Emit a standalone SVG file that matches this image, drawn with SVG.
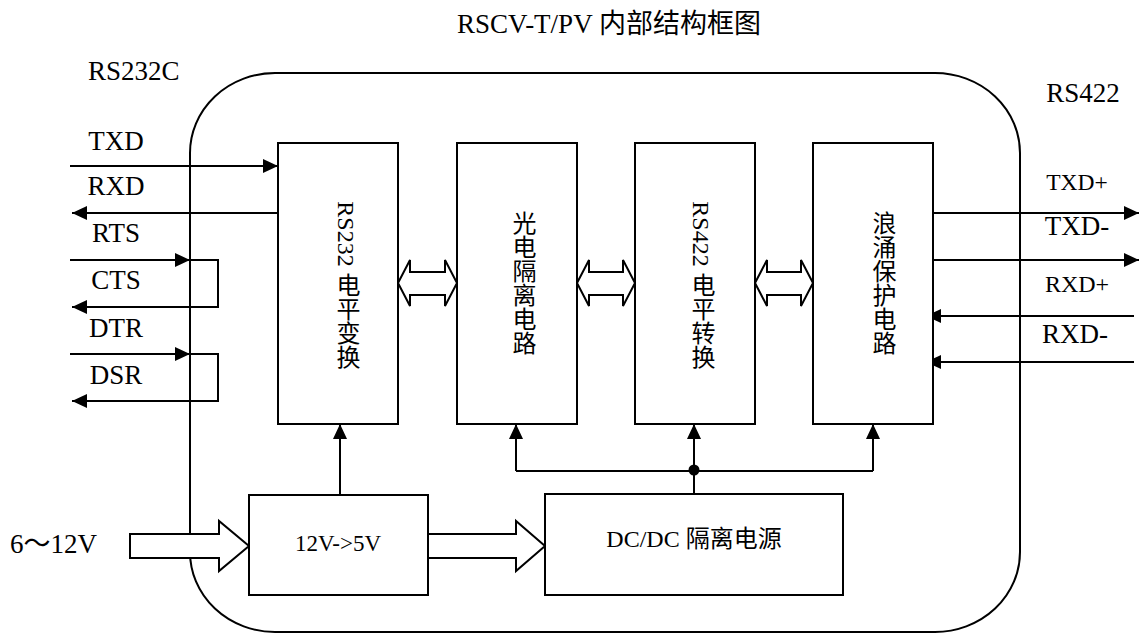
<svg xmlns="http://www.w3.org/2000/svg" width="1141" height="635" viewBox="0 0 1141 635">
<style>
.t{font-family:"Liberation Serif","Noto Sans CJK SC",serif;fill:#000}
.ln{fill:none;stroke:#000;stroke-width:2}
.box{fill:#fff;stroke:#000;stroke-width:2}
.hol{fill:#fff;stroke:#000;stroke-width:2;stroke-linejoin:miter}
.v{writing-mode:vertical-rl;font-size:24px}
</style>
<defs>
<marker id="arr" markerUnits="userSpaceOnUse" viewBox="0 0 15 14" refX="15" refY="7" markerWidth="15" markerHeight="14" orient="auto">
<path d="M0,0 L15,7 L0,14 z" fill="#000"/>
</marker>
</defs>
<rect fill="#fff" width="1141" height="635"/>
<text class="t" x="609" y="33" font-size="27" text-anchor="middle">RSCV-T/PV 内部结构框图</text>
<text class="t" x="88" y="80" font-size="27">RS232C</text>
<text class="t" x="1083" y="102" font-size="27" text-anchor="middle">RS422</text>
<g id="outer">
<rect class="ln" x="190" y="73" width="830" height="559" rx="85" ry="80"/>
</g>
<g id="labels-left" class="t" font-size="27" text-anchor="middle">
<text x="116" y="150">TXD</text>
<text x="116" y="195">RXD</text>
<text x="116" y="242">RTS</text>
<text x="116" y="289">CTS</text>
<text x="116" y="337">DTR</text>
<text x="116" y="384">DSR</text>
</g>
<g id="labels-right" class="t" text-anchor="middle">
<text x="1077" y="190" font-size="23.5">TXD+</text>
<text x="1077" y="235" font-size="27">TXD-</text>
<text x="1077" y="292" font-size="24">RXD+</text>
<text x="1075" y="343" font-size="27">RXD-</text>
</g>
<g id="connectors">
<path class="ln" d="M70,166 H278" marker-end="url(#arr)"/>
<path class="ln" d="M278,213 H72" marker-end="url(#arr)"/>
<path class="ln" d="M70,260 H190" marker-end="url(#arr)"/>
<path class="ln" d="M190,260 H218 V307 H72" marker-end="url(#arr)"/>
<path class="ln" d="M70,354 H190" marker-end="url(#arr)"/>
<path class="ln" d="M190,354 H218 V401 H72" marker-end="url(#arr)"/>
<path class="ln" d="M933,213 H1139" marker-end="url(#arr)"/>
<path class="ln" d="M933,260 H1139" marker-end="url(#arr)"/>
<path class="ln" d="M1134,316 H926" marker-end="url(#arr)"/>
<path class="ln" d="M1134,362 H926" marker-end="url(#arr)"/>
<path class="ln" d="M340,495 V424" marker-end="url(#arr)"/>
<path class="ln" d="M694,494 V424" marker-end="url(#arr)"/>
<path class="ln" d="M516,471 V424" marker-end="url(#arr)"/>
<path class="ln" d="M873,471 V424" marker-end="url(#arr)"/>
<path class="ln" d="M516,471 H873"/>
<circle cx="694" cy="470" r="5.5" fill="#000"/>
<polygon class="hol" points="398,283 410,260 410,272 445,272 445,260 457,283 445,306 445,295 410,295 410,306"/>
<polygon class="hol" points="577,283 589,260 589,272 623,272 623,260 635,283 623,306 623,295 589,295 589,306"/>
<polygon class="hol" points="755,283 767,260 767,272 801,272 801,260 813,283 801,306 801,295 767,295 767,306"/>
<polygon class="hol" points="130,534 219,534 219,521 249,546 219,571 219,558 130,558"/>
<polygon class="hol" points="428,534 516,534 516,521 545,546 516,571 516,558 428,558"/>
</g>
<g id="rs232">
<rect class="box" x="278" y="143" width="120" height="281"/>
<text class="t v" x="346" y="285" text-anchor="middle">RS232 电平变换</text>
</g>
<g id="opto">
<rect class="box" x="457" y="143" width="120" height="281"/>
<text class="t v" x="522" y="283" text-anchor="middle">光电隔离电路</text>
</g>
<g id="rs422">
<rect class="box" x="635" y="143" width="120" height="281"/>
<text class="t v" x="701" y="285" text-anchor="middle">RS422 电平转换</text>
</g>
<g id="surge">
<rect class="box" x="813" y="143" width="120" height="281"/>
<text class="t v" x="882" y="283" text-anchor="middle">浪涌保护电路</text>
</g>
<g id="reg">
<rect class="box" x="249" y="495" width="179" height="100"/>
<text class="t" x="338" y="551" font-size="23" text-anchor="middle">12V-&gt;5V</text>
</g>
<g id="dcdc">
<rect class="box" x="545" y="494" width="298" height="101"/>
<text class="t" x="694" y="547" font-size="24" text-anchor="middle">DC/DC 隔离电源</text>
</g>
<text class="t" x="10" y="553" font-size="27">6～12V</text>
</svg>
